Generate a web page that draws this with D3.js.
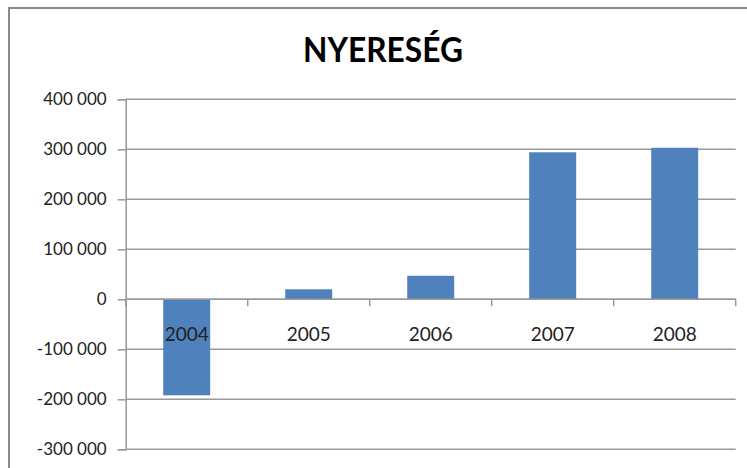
<!DOCTYPE html>
<html>
<head>
<meta charset="utf-8">
<script src="https://cdn.jsdelivr.net/npm/d3@7"></script>
<style>
  body { margin: 0; background: #fff; }
  text { font-family: Lato, "Open Sans", sans-serif; }
</style>
</head>
<body>
<div id="chart"></div>
<script>
// Chart data
const years = ["2004", "2005", "2006", "2007", "2008"];
const profit = [-192000, 20000, 47000, 294000, 303000];
const yTicks = [-300000, -200000, -100000, 0, 100000, 200000, 300000, 400000];
const title = "NYERESÉG";

const width = 747, height = 468;
const plot = { left: 125.7, right: 735.7, top: 99.3, bottom: 449.3 };

const svg = d3.select("#chart").append("svg")
    .attr("width", width)
    .attr("height", height);

// Outer chart frame
svg.append("rect")
    .attr("x", 9).attr("y", 8)
    .attr("width", 760).attr("height", 480)
    .attr("fill", "#fff")
    .attr("stroke", "#8a8a8a")
    .attr("stroke-width", 2);

// Scales
const x = d3.scaleBand()
    .domain(years)
    .range([plot.left, plot.right])
    .paddingInner(0.615)
    .paddingOuter(0.3075);

const y = d3.scaleLinear()
    .domain([-300000, 400000])
    .range([plot.bottom, plot.top]);

const fmt = d3.formatLocale({ decimal: ",", thousands: " ", grouping: [3], currency: ["", ""], minus: "-" }).format(",d");

// Value axis (left)
const yAxis = svg.append("g")
    .attr("transform", `translate(${plot.left},0)`)
    .call(d3.axisLeft(y).tickValues(yTicks).tickFormat(fmt).tickSize(8).tickPadding(11));
yAxis.select(".domain").attr("stroke", "#999").attr("stroke-width", 1.5);
yAxis.selectAll(".tick line").attr("stroke", "#999").attr("stroke-width", 1.5);
yAxis.selectAll(".tick text")
    .attr("fill", "#222")
    .style("font-size", "17px");

// Gridlines
svg.append("g")
    .selectAll("line")
    .data(yTicks)
    .join("line")
    .attr("x1", plot.left)
    .attr("x2", plot.right)
    .attr("y1", d => y(d))
    .attr("y2", d => y(d))
    .attr("stroke", "#999")
    .attr("stroke-width", 1.5);

// Bars
svg.append("g")
    .selectAll("rect")
    .data(years)
    .join("rect")
    .attr("x", d => x(d))
    .attr("width", x.bandwidth())
    .attr("y", (d, i) => y(Math.max(0, profit[i])))
    .attr("height", (d, i) => Math.abs(y(profit[i]) - y(0)))
    .attr("fill", "#4f81bd");

// Category axis on the zero line
const step = x.step();
const xAxis = svg.append("g")
    .attr("transform", `translate(0,${y(0)})`);
xAxis.append("line")
    .attr("x1", plot.left).attr("x2", plot.right)
    .attr("stroke", "#999").attr("stroke-width", 1.5);
xAxis.selectAll(".cat-tick")
    .data(d3.range(years.length + 1))
    .join("line")
    .attr("class", "cat-tick")
    .attr("x1", i => plot.left + i * step)
    .attr("x2", i => plot.left + i * step)
    .attr("y1", 0).attr("y2", 7)
    .attr("stroke", "#999").attr("stroke-width", 1.5);
xAxis.selectAll("text")
    .data(years)
    .join("text")
    .attr("x", d => x(d) + x.bandwidth() / 2)
    .attr("y", 42)
    .attr("text-anchor", "middle")
    .attr("fill", "#222")
    .style("font-size", "19px")
    .text(d => d);

// Title
svg.append("text")
    .attr("x", 383)
    .attr("y", 62)
    .attr("text-anchor", "middle")
    .attr("font-weight", "bold")
    .attr("fill", "#000")
    .attr("textLength", 160)
    .attr("lengthAdjust", "spacingAndGlyphs")
    .style("font-size", "34px")
    .text(title);
</script>
</body>
</html>
